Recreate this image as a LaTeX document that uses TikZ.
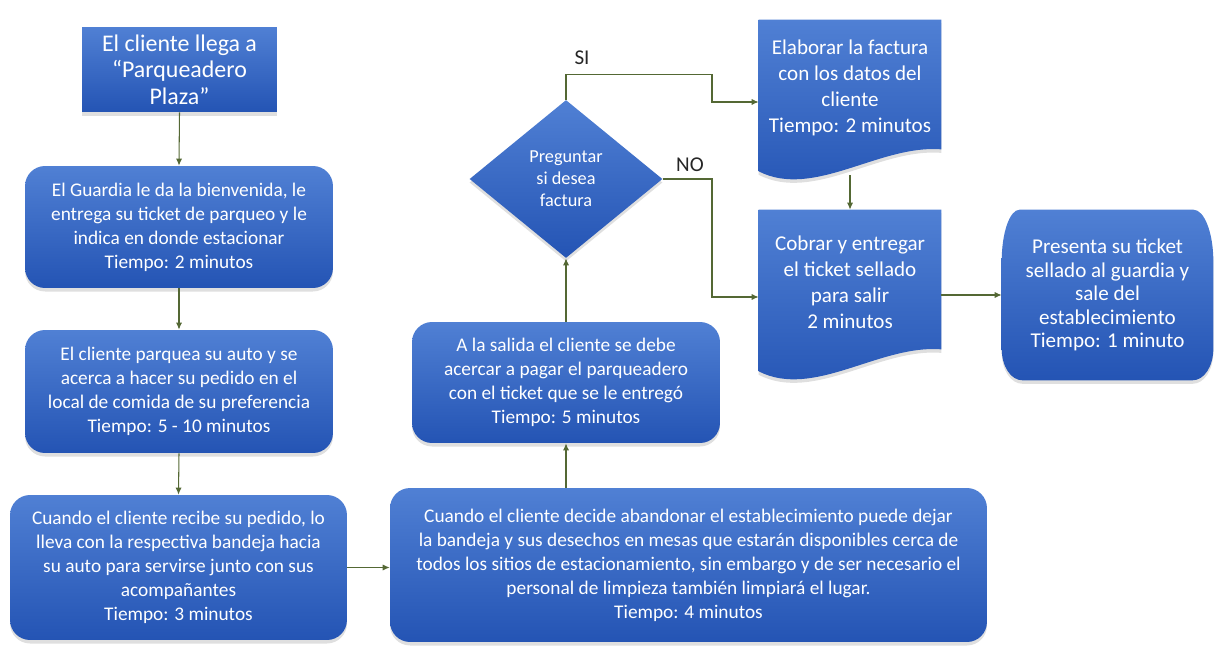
\documentclass[tikz,border=0pt]{standalone}
\usepackage{fontspec}
\setmainfont{Carlito}
\usetikzlibrary{shapes.geometric, arrows.meta, backgrounds, shadows}

\definecolor{azulclaro}{RGB}{80,128,212}
\definecolor{azuloscuro}{RGB}{36,84,180}
\definecolor{verdeflecha}{RGB}{84,104,52}

\begin{document}
\begin{tikzpicture}[x=0.02cm, y=-0.02cm,
    relleno/.style={top color=azulclaro, bottom color=azuloscuro,
        drop shadow={opacity=0.25, shadow xshift=0pt, shadow yshift=-2pt}},
    paso/.style={relleno, rounded corners=0.4cm, text=white, align=center,
        inner sep=2pt, font=\fontsize{11}{13.7}\selectfont},
    hoja/.style={text=white, align=center, inner sep=2pt,
        font=\fontsize{12}{14.8}\selectfont},
    flecha/.style={draw=verdeflecha, line width=0.6pt, -{Latex[length=4pt, width=3.5pt]}},
    rotulo/.style={text=black!85, font=\fontsize{12}{14}\selectfont}]

    \useasboundingbox (0,0) rectangle (1219,648);

    % Left column
    \node[paso, sharp corners, minimum width=3.9cm, minimum height=1.7cm,
          font=\fontsize{13.6}{15.1}\selectfont] (llega) at (179.5,69.5)
        {El cliente llega a\\“Parqueadero\\Plaza”};
    \node[paso, minimum width=6.16cm, minimum height=2.44cm] (guardia) at (179,227)
        {El Guardia le da la bienvenida, le\\entrega su ticket de parqueo y le\\indica en donde estacionar\\Tiempo: 2 minutos};
    \node[paso, minimum width=6.16cm, minimum height=2.46cm] (parquea) at (179,391.5)
        {El cliente parquea su auto y se\\acerca a hacer su pedido en el\\local de comida de su preferencia\\Tiempo: 5 - 10 minutos};
    \node[paso, minimum width=6.74cm, minimum height=2.9cm] (recibe) at (178.5,567.5)
        {Cuando el cliente recibe su pedido, lo\\lleva con la respectiva bandeja hacia\\su auto para servirse junto con sus\\acompañantes\\Tiempo: 3 minutos};

    % Middle column
    \node[paso, minimum width=11.94cm, minimum height=3.08cm] (abandona) at (688.5,565)
        {Cuando el cliente decide abandonar el establecimiento puede dejar\\la bandeja y sus desechos en mesas que estarán disponibles cerca de\\todos los sitios de estacionamiento, sin embargo y de ser necesario el\\personal de limpieza también limpiará el lugar.\\Tiempo: 4 minutos};
    \node[paso, minimum width=6.16cm, minimum height=2.42cm] (salida) at (566,382.5)
        {A la salida el cliente se debe\\acercar a pagar el parqueadero\\con el ticket que se le entregó\\Tiempo: 5 minutos};
    \node[paso, shape=diamond, sharp corners, inner sep=0pt, minimum width=3.86cm,
          minimum height=3.16cm, font=\fontsize{10.4}{12.5}\selectfont] (pregunta) at (566,179)
        {Preguntar\\si desea\\factura};

    % Right column
    \node[hoja, minimum width=3.64cm, minimum height=2.7cm] (factura) at (850,87.5)
        {Elaborar la factura\\con los datos del\\cliente\\Tiempo: 2 minutos};
    \node[hoja, minimum width=3.64cm, minimum height=2.9cm] (cobrar) at (850,282.5)
        {Cobrar y entregar\\el ticket sellado\\para salir\\2 minutos};
    \node[hoja, minimum width=4.22cm, minimum height=3.4cm,
          font=\fontsize{12}{13.4}\selectfont] (presenta) at (1107.5,295)
        {Presenta su ticket\\sellado al guardia y\\sale del\\establecimiento\\Tiempo: 1 minuto};

    % Shapes behind the right column
    \begin{scope}[on background layer]
        \foreach \n in {factura, cobrar}{
            \shade[relleno] (\n.north west) -- (\n.north east) -- ([yshift=0.12cm]\n.south east)
                .. controls +(-62,-5) and +(55,28) .. ([yshift=-0.32cm]\n.south west) -- cycle;
        }
        \shade[relleno] ([shift={(18,0)}]presenta.north west) -- ([shift={(-20,0)}]presenta.north east)
            .. controls +(11,0) and +(0,-29) .. ([shift={(0,52)}]presenta.north east)
            -- ([shift={(0,-32)}]presenta.south east)
            .. controls +(0,18) and +(12,0) .. ([shift={(-21,0)}]presenta.south east)
            -- ([shift={(21,0)}]presenta.south west)
            .. controls +(-12,0) and +(0,18) .. ([shift={(0,-32)}]presenta.south west)
            -- ([shift={(0,52)}]presenta.north west)
            .. controls +(0,-29) and +(-10,0) .. ([shift={(18,0)}]presenta.north west) -- cycle;
    \end{scope}

    % Connectors
    \foreach \a/\b in {llega/guardia, guardia/parquea, parquea/recibe}{
        \draw[flecha] (\a.south) -- (\b.north);
    }
    \draw[flecha] (recibe.east) -- (recibe.east -| abandona.west);
    \draw[flecha] (salida.south |- abandona.north) -- (salida.south);
    \draw[flecha] (salida.north) -- (pregunta.south);

    % SI / NO branches
    \coordinate (codosi) at (712,102);
    \coordinate (codono) at (712,297);
    \draw[flecha] (pregunta.north) -- ++(0,-25) -| (codosi) -- (codosi -| factura.west);
    \draw[flecha] (pregunta.east) -| (codono) -- (codono -| cobrar.west);
    \node[rotulo] (si) at (582,58) {SI};
    \node[rotulo] (no) at (690,165) {NO};

    \draw[flecha] ([yshift=-0.4cm]factura.south) -- (cobrar.north);
    \draw[flecha] (cobrar.east |- presenta.west) -- (presenta.west);

\end{tikzpicture}
\end{document}
